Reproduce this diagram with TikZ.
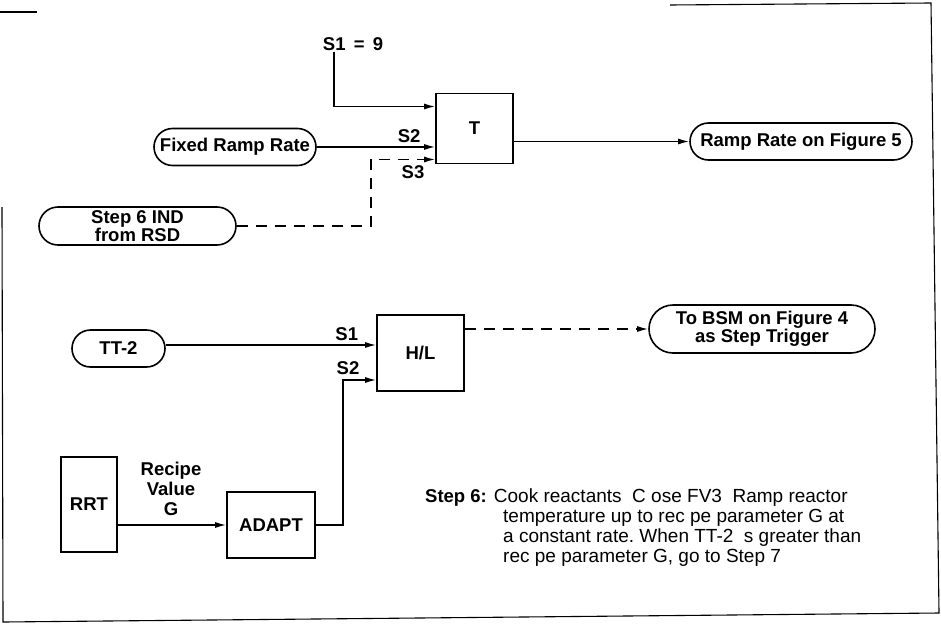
\documentclass[tikz,border=0pt]{standalone}
\usepackage{fontspec}
\setmainfont{Liberation Sans}
\usepackage{tikz}
\usetikzlibrary{arrows.meta,positioning,shapes.misc}
\tikzset{
  blockbox/.style={
    draw, line width=1.6pt, font=\labelfont, align=center, inner sep=2pt
  },
  pill/.style={
    draw, rounded rectangle, line width=1.6pt, font=\labelfont,
    align=center, inner sep=2pt
  },
  tag/.style={font=\labelfont, align=center, inner sep=1pt},
  arrow/.style={-{Latex[length=11pt,width=6pt]}, line width=1.5pt},
  dasharrow/.style={arrow, dash pattern=on 11pt off 8pt},
  frame/.style={line width=1.1pt},
}
\newcommand{\labelfont}{\fontsize{18.5}{17}\selectfont\bfseries}
\newcommand{\notefont}{\fontsize{19}{20}\selectfont}

\begin{document}
\begin{tikzpicture}[x=1pt, y=-1pt]
    \useasboundingbox (0,0) rectangle (941,626);
    % page frame
    \draw[frame] (0,12) -- (37,12);
    \draw[frame] (670,5) -- (931,3) -- (939,613) -- (3,622) -- (2,207);

    % upper group
    \node[tag] (seq) at (353,44) {S1\ \,=\ \,9};
    \node[blockbox, minimum width=77pt, minimum height=70pt] (tbox) at (474.5,128.5) {T};
    \node[pill, minimum width=166pt, minimum height=37pt] (fixed) at (235,147) {Fixed Ramp Rate};
    \node[pill, minimum width=201pt, minimum height=38pt] (stepind) at (137.5,226) {Step 6 IND\\from RSD};
    \node[pill, minimum width=226pt, minimum height=37pt] (ramp) at (801,141.5) {Ramp Rate on Figure 5};

    \draw[arrow] ([xshift=-19pt]seq.south) |- ([yshift=22pt]tbox.west);
    \draw[arrow] (fixed.east) -- (fixed.east -| tbox.west)
        node[tag, pos=0.78, above=3pt] (stwo) {S2};
    \draw[dasharrow] (stepind.east) -- ++(134,0) |- ([yshift=-31pt]tbox.west);
    \node[tag] (sthree) at (413,172) {S3};
    \draw[arrow] (tbox.east |- ramp.west) -- (ramp.west);

    % lower group
    \node[pill, minimum width=97pt, minimum height=37pt] (tt) at (118.5,348.5) {TT-2};
    \node[blockbox, minimum width=87pt, minimum height=76pt] (hl) at (420.5,353) {H/L};
    \node[blockbox, minimum width=56pt, minimum height=95pt] (rrt) at (89,504.5) {RRT};
    \node[blockbox, minimum width=88pt, minimum height=66pt] (adapt) at (271,525) {ADAPT};
    \node[pill, minimum width=230pt, minimum height=48pt] (bsm) at (762,329) {To BSM on Figure 4\\as Step Trigger};
    \node[tag, font=\fontsize{18.5}{20}\selectfont\bfseries] (recipe) at (171,489) {Recipe\\Value\\G};

    \draw[arrow] (tt.east |- 0,345) -- (hl.west |- 0,345)
        node[tag, pos=0.86, above=3pt] (sone) {S1};
    \draw[arrow] (adapt.east) -- ++(27,0) |- ([yshift=-27pt]hl.west);
    \node[tag] (stwob) at (348,368) {S2};
    \draw[arrow] (rrt.east |- adapt.west) -- (adapt.west);
    \draw[dasharrow] (hl.east |- bsm.west) -- (bsm.west);

    % step note
    \node[anchor=north west, align=left, font=\notefont, inner sep=0pt] (note) at (425,489)
      {{\fontsize{18.5}{20}\selectfont\bfseries Step 6:} Cook reactants\ \ C ose FV3\ \ Ramp reactor\\
       \hspace*{78pt}temperature up to rec pe parameter G at\\
       \hspace*{78pt}a constant rate.\ When TT-2\ \ s greater than\\
       \hspace*{78pt}rec pe parameter G, go to Step 7};
\end{tikzpicture}
\end{document}
